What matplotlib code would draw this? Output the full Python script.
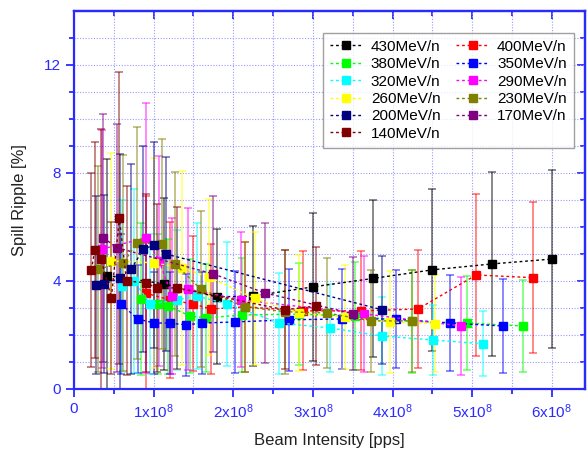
import matplotlib
matplotlib.use("Agg")
import matplotlib.pyplot as plt

plt.rcParams['font.family'] = ['Liberation Sans', 'DejaVu Sans']
plt.rcParams['mathtext.default'] = 'regular'

# beam intensity in units of 1e8 pps, spill ripple in %
labels = ["430MeV/n", "400MeV/n", "380MeV/n", "350MeV/n", "320MeV/n", "290MeV/n",
          "260MeV/n", "230MeV/n", "200MeV/n", "170MeV/n", "140MeV/n"]
colors = ["#000000", "#ff0000", "#00ff00", "#0000ff", "#00ffff", "#ff00ff",
          "#ffff00", "#808000", "#000080", "#800080", "#800000"]

x430 = [0.42, 1.13, 1.79, 2.25, 3.00, 3.75, 4.50, 5.25, 6.00]
y430 = [4.20, 3.89, 3.41, 3.44, 3.78, 4.09, 4.41, 4.63, 4.81]
e430 = [4.3, 3.2, 2.5, 2.6, 2.75, 2.9, 3.0, 3.4, 3.3]

x400 = [0.90, 1.20, 1.49, 1.72, 2.15, 2.88, 3.60, 4.32, 5.05, 5.77]
y400 = [3.55, 3.30, 3.15, 2.96, 3.04, 2.89, 2.89, 2.96, 4.22, 4.12]
e400 = [3.6, 2.9, 2.5, 2.4, 2.4, 2.2, 2.2, 2.2, 3.0, 2.8]

x380 = [0.84, 1.06, 1.18, 1.46, 1.66, 2.11, 2.82, 3.53, 4.24, 4.93, 5.64]
y380 = [3.33, 3.15, 3.07, 2.70, 2.63, 2.74, 2.77, 2.70, 2.50, 2.44, 2.33]
e380 = [2.8, 2.6, 2.5, 2.1, 2.0, 2.1, 1.9, 2.0, 1.9, 1.75, 1.72]

x350 = [0.59, 0.80, 1.01, 1.20, 1.41, 1.61, 2.02, 2.70, 3.37, 4.05, 4.72, 5.39]
y350 = [3.15, 2.59, 2.44, 2.44, 2.37, 2.44, 2.48, 2.56, 2.59, 2.59, 2.44, 2.33]
e350 = [2.6, 2.0, 1.9, 1.9, 1.9, 1.9, 1.9, 1.9, 1.87, 1.8, 1.77, 1.75]

x320 = [0.60, 0.75, 0.96, 1.30, 1.54, 1.92, 2.58, 3.21, 3.87, 4.51, 5.14]
y320 = [3.81, 4.00, 3.15, 3.30, 3.44, 3.15, 2.44, 2.26, 1.96, 1.81, 1.67]
e320 = [3.2, 3.4, 2.6, 2.6, 2.7, 2.3, 1.87, 1.64, 1.46, 1.3, 1.2]

x290 = [0.35, 0.91, 1.07, 1.23, 1.43, 2.10, 3.64, 4.86]
y290 = [5.18, 5.60, 4.74, 3.44, 3.70, 3.30, 2.78, 2.33]
e290 = [4.4, 5.0, 3.9, 2.9, 3.0, 2.5, 2.15, 1.8]

x260 = [0.47, 1.01, 1.36, 1.69, 2.27, 2.83, 3.40, 3.97, 4.53]
y260 = [4.74, 4.67, 4.48, 4.15, 3.35, 2.81, 2.66, 2.48, 2.42]
e260 = [4.0, 3.9, 3.6, 2.9, 2.45, 2.15, 1.93, 1.9, 1.8]

x230 = [0.30, 0.62, 0.79, 1.10, 1.27, 1.59, 2.15, 2.65, 3.18, 3.73, 4.24]
y230 = [4.44, 4.67, 5.41, 5.37, 4.63, 3.70, 3.04, 2.86, 2.81, 2.52, 2.52]
e230 = [3.8, 4.0, 4.3, 3.9, 3.4, 2.9, 2.4, 2.3, 2.05, 1.9, 1.9]

x200 = [0.28, 0.38, 0.58, 0.72, 0.87, 1.01, 1.15, 3.87]
y200 = [3.85, 3.89, 4.11, 4.44, 5.18, 5.33, 5.00, 2.93]
e200 = [3.3, 3.3, 4.6, 3.9, 3.8, 3.8, 3.6, 2.0]

x170 = [0.37, 0.54, 1.75, 2.40, 3.50]
y170 = [5.60, 5.23, 4.26, 3.55, 2.79]
e170 = [4.6, 4.6, 2.9, 2.6, 2.1]

x140 = [0.22, 0.26, 0.34, 0.47, 0.57, 0.66, 0.90, 1.04, 1.30, 2.65, 3.04]
y140 = [4.41, 5.15, 4.81, 3.37, 6.33, 4.00, 3.93, 3.74, 3.74, 2.93, 3.07]
e140 = [3.6, 4.0, 4.81, 2.8, 5.4, 3.5, 3.3, 3.1, 3.0, 2.2, 2.2]

xs = [x430, x400, x380, x350, x320, x290, x260, x230, x200, x170, x140]
ys = [y430, y400, y380, y350, y320, y290, y260, y230, y200, y170, y140]
es = [e430, e400, e380, e350, e320, e290, e260, e230, e200, e170, e140]

xtick_vals = [0, 1, 2, 3, 4, 5, 6]
xtick_labels = ["0", "1x10$^8$", "2x10$^8$", "3x10$^8$", "4x10$^8$", "5x10$^8$", "6x10$^8$"]
xminor = [0.5, 1.5, 2.5, 3.5, 4.5, 5.5]
ytick_vals = [0, 4, 8, 12]
yminor = [1, 2, 3, 5, 6, 7, 9, 10, 11, 13]

blue = "#2a2aff"

fig = plt.figure(figsize=(5.87, 4.57), dpi=100)
ax = fig.add_axes([0.126, 0.149, 0.871, 0.827])

handles = []
for x, y, e, c, lab in zip(xs, ys, es, colors, labels):
    ax.errorbar(x, y, yerr=e, fmt='none', ecolor=c, alpha=0.5,
                elinewidth=1.3, capsize=3, capthick=1.3, zorder=2)
    h, = ax.plot(x, y, linestyle=(0, (2, 2)), linewidth=1.0, color=c,
                 marker='s', markersize=5.5, markeredgecolor=c, label=lab, zorder=3)
    handles.append(h)

ax.set_xlim(0, 6.42)
ax.set_ylim(0, 14)
ax.set_xticks(xtick_vals)
ax.set_xticklabels(xtick_labels)
ax.set_xticks(xminor, minor=True)
ax.set_yticks(ytick_vals)
ax.set_yticks(yminor, minor=True)

ax.grid(True, which='both', color='#9a9aff', linestyle=(0, (1, 1.5)), linewidth=0.8)
ax.set_axisbelow(True)

for s in ax.spines.values():
    s.set_color(blue)
    s.set_linewidth(1.6)

ax.tick_params(axis='both', which='both', colors=blue, labelsize=11, width=1.3,
               direction='out')
ax.tick_params(axis='both', which='major', length=6)
ax.tick_params(axis='both', which='minor', length=3.5)

# top and right ticks point inwards
top = ax.secondary_xaxis('top')
top.set_xticks(xtick_vals)
top.set_xticks(xminor, minor=True)
top.tick_params(which='both', direction='in', colors=blue, width=1.3, labeltop=False)
top.tick_params(which='major', length=6)
top.tick_params(which='minor', length=3.5)
top.spines['top'].set_color(blue)
top.spines['top'].set_linewidth(1.6)
right = ax.secondary_yaxis('right')
right.set_yticks(ytick_vals)
right.set_yticks(yminor, minor=True)
right.tick_params(which='both', direction='in', colors=blue, width=1.3, labelright=False)
right.tick_params(which='major', length=6)
right.tick_params(which='minor', length=3.5)
right.spines['right'].set_color(blue)
right.spines['right'].set_linewidth(1.6)

ax.set_xlabel("Beam Intensity [pps]", fontsize=12, color='#222222', labelpad=9)
ax.set_ylabel("Spill Ripple [%]", fontsize=12, color='#222222', labelpad=12)

# legend laid out row-wise like the original
order = [0, 2, 4, 6, 8, 10, 1, 3, 5, 7, 9]
leg = ax.legend([handles[i] for i in order], [labels[i] for i in order],
                ncol=2, loc='upper right', bbox_to_anchor=(0.992, 0.962),
                fontsize=11, frameon=True, fancybox=False, handlelength=2.2,
                columnspacing=1.0, labelspacing=0.22, borderpad=0.45,
                handletextpad=0.5)
leg.get_frame().set_edgecolor('#888888')
leg.get_frame().set_linewidth(1.0)
leg.set_zorder(5)

fig.savefig("out.png", dpi=100)
